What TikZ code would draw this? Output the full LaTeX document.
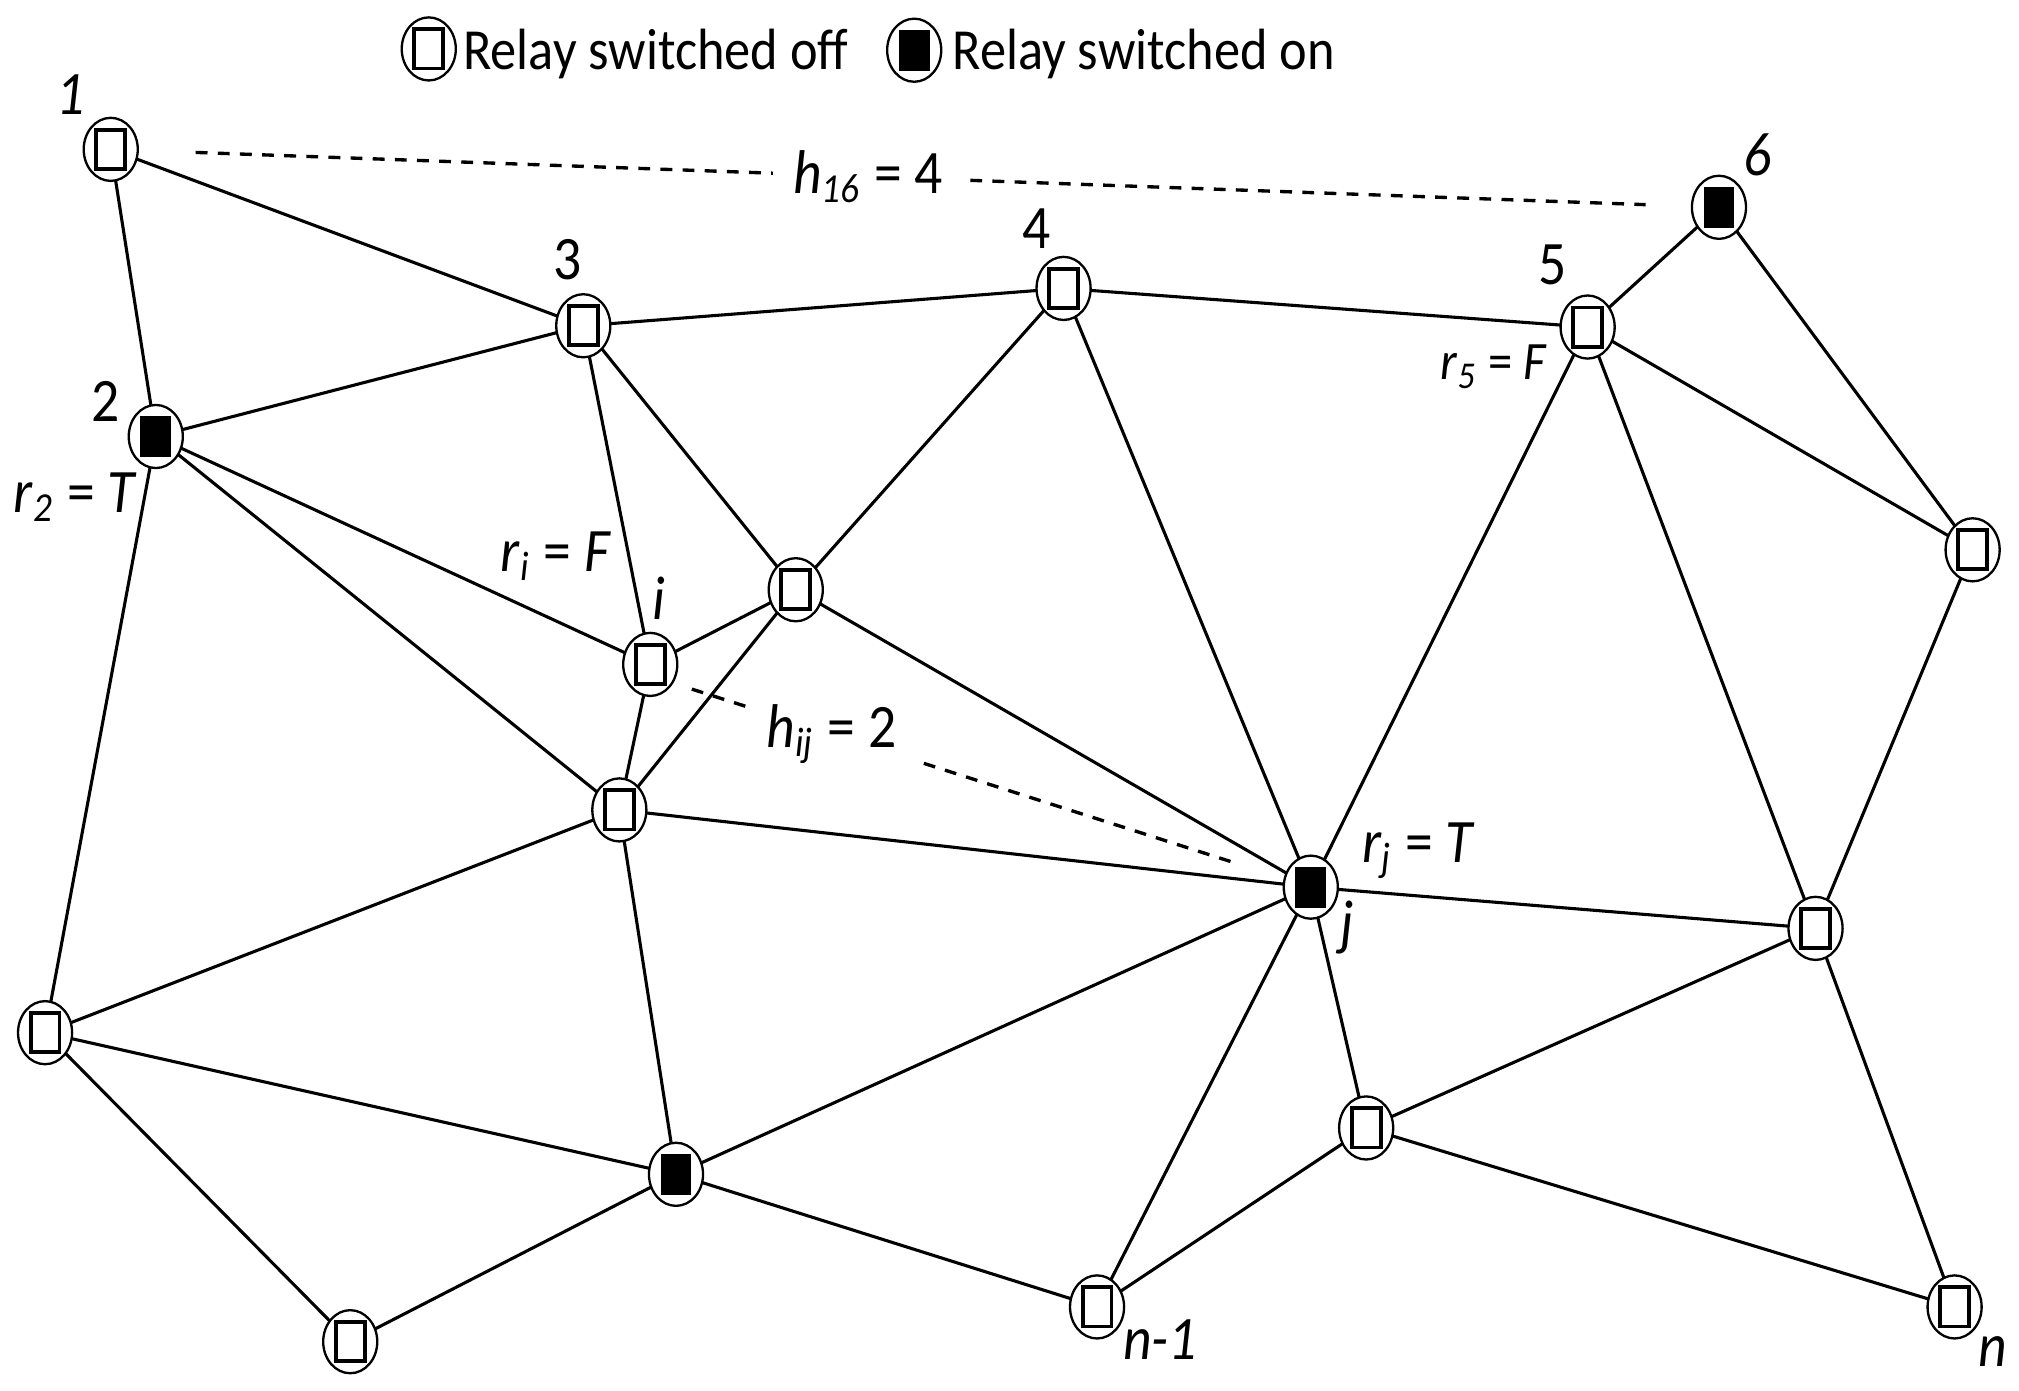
\documentclass[tikz,border=0pt]{standalone}
\usepackage{fontspec}
\setmainfont{Carlito}[FakeStretch=0.9]
\usetikzlibrary{shapes.geometric}
\begin{document}
\begin{tikzpicture}[x=0.25pt,y=-0.25pt,
  relay/.style={ellipse, draw, line width=0.45pt, minimum width=10.5pt, minimum height=12.25pt, inner sep=0pt, outer sep=0pt},
  relayoff/.style={relay, path picture={\draw[line width=0.75pt] ([xshift=-2.8pt,yshift=-3.8pt]path picture bounding box.center) rectangle ([xshift=2.8pt,yshift=3.8pt]path picture bounding box.center);}},
  relayon/.style={relay, path picture={\fill ([xshift=-3pt,yshift=-4pt]path picture bounding box.center) rectangle ([xshift=3pt,yshift=4pt]path picture bounding box.center);}},
  link/.style={line width=0.6pt},
  hop/.style={line width=0.65pt, dash pattern=on 2.3pt off 2pt},
  lbl/.style={inner sep=0pt, font=\fontsize{12}{14}\selectfont},
  smlbl/.style={inner sep=0pt, font=\fontsize{10.5}{12}\selectfont},
  legtext/.style={inner sep=0pt, font=\fontsize{11.3}{13}\selectfont},
  hlabel/.style={lbl, fill=white, inner xsep=4pt, inner ysep=1pt}
]
\useasboundingbox (0,0) rectangle (1568,1080);

% legend
\node[relayoff] (legoff) at (333,38) {};
\node[legtext, anchor=base west] (legofftext) at (359,54) {Relay switched off};
\node[relayon] (legon) at (710,39) {};
\node[legtext, anchor=base west] (legontext) at (739,54) {Relay switched on};

% relays
\node[relayoff] (n1)  at (86,116) {};
\node[relayon]  (n2)  at (121,339) {};
\node[relayoff] (n3)  at (453,253) {};
\node[relayoff] (n4)  at (826,224) {};
\node[relayoff] (n5)  at (1233,254) {};
\node[relayon]  (n6)  at (1335,161) {};
\node[relayoff] (n7)  at (1532,427) {};
\node[relayoff] (ni)  at (505,516) {};
\node[relayoff] (n8)  at (618,458) {};
\node[relayoff] (n9)  at (481,629) {};
\node[relayon]  (nj)  at (1018,689) {};
\node[relayoff] (n10) at (1410,721) {};
\node[relayoff] (n11) at (35,802) {};
\node[relayon]  (n12) at (525,912) {};
\node[relayoff] (n13) at (272,1042) {};
\node[relayoff] (n14) at (1061,876) {};
\node[relayoff] (nn1) at (852,1015) {};
\node[relayoff] (nn)  at (1518,1015) {};

% labels
\node[lbl, anchor=base] (l1) at (55,89) {\textit{1}};
\node[lbl, anchor=base] (l2) at (82,327) {2};
\node[lbl, anchor=base] (l3) at (441,217) {3};
\node[lbl, anchor=base] (l4) at (805,193) {4};
\node[lbl, anchor=base] (l5) at (1206,221) {5};
\node[lbl, anchor=base] (l6) at (1365,136) {\textit{6}};
\node[lbl, anchor=base] (li) at (512,481) {\textit{i}};
\node[lbl, anchor=base] (lj) at (1046,733) {\textit{j}};
\node[lbl, anchor=base] (lnn1) at (901,1056) {\textit{n-1}};
\node[lbl, anchor=base] (lnn) at (1548,1061) {\textit{n}};

\node[lbl, anchor=base west] (r2) at (10,398) {\textit{r}\textsubscript{\textit{2}} = \textit{T}};
\node[lbl, anchor=base west] (ri) at (388,444) {\textit{r}\textsubscript{\textit{i}} = \textit{F}};
\node[smlbl, anchor=base west] (r5) at (1118,295) {\textit{r}\textsubscript{\textit{5}} = \textit{F}};
\node[lbl, anchor=base west] (rj) at (1057,670) {\textit{r}\textsubscript{\textit{j}} = \textit{T}};

% links
\draw[link] (n1)--(n2) (n1)--(n3) (n2)--(n3) (n2)--(ni) (n2)--(n9) (n2)--(n11)
  (n3)--(n4) (n3)--(ni) (n3)--(n8) (n4)--(n5) (n4)--(n8) (n4)--(nj)
  (n5)--(n6) (n5)--(nj) (n5)--(n7) (n5)--(n10) (n6)--(n7) (n7)--(n10)
  (ni)--(n8) (ni)--(n9) (n8)--(n9) (n8)--(nj) (n9)--(nj) (n9)--(n11) (n9)--(n12)
  (nj)--(n10) (nj)--(n12) (nj)--(nn1) (nj)--(n14) (n10)--(n14) (n10)--(nn)
  (n11)--(n12) (n11)--(n13) (n12)--(n13) (n12)--(nn1) (n14)--(nn1) (n14)--(nn);

% hop distances
\draw[hop, shorten <=11.25pt, shorten >=9pt] (n1) -- node[hlabel, pos=0.47] (h16) {\textit{h}\textsubscript{\textit{16}} = 4} (n6);
\draw[hop, shorten <=4pt, shorten >=11pt] (ni.-40) -- node[hlabel, pos=0.26] (hij) {\textit{h}\textsubscript{\textit{ij}} = 2} (nj);
\end{tikzpicture}
\end{document}
